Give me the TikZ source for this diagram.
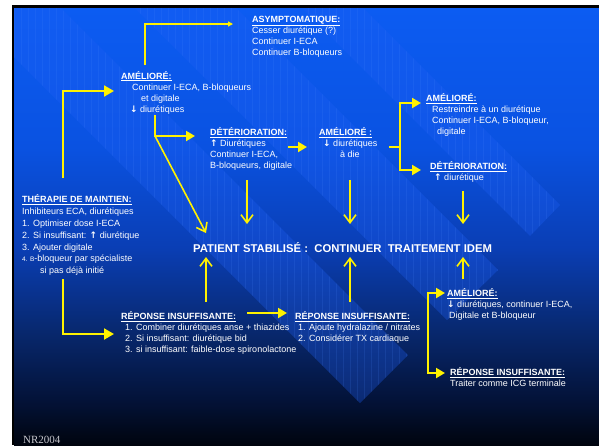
\documentclass[tikz,border=0pt]{standalone}
\usepackage{fontspec}
\setmainfont{Liberation Sans}
\newfontfamily\nrfont{Liberation Serif}
\newfontfamily\symfont{DejaVu Sans}
\usetikzlibrary{arrows.meta, calc}

\definecolor{bgtop}{RGB}{12,92,242}
\definecolor{bgup}{RGB}{10,82,225}
\definecolor{bgmid}{RGB}{10,62,180}
\definecolor{bgdark}{RGB}{8,40,110}
\definecolor{bglow}{RGB}{3,18,55}
\definecolor{bgbot}{RGB}{0,4,14}
\definecolor{bandcol}{RGB}{30,95,245}
\definecolor{gridcol}{RGB}{80,140,255}
\definecolor{nrgray}{RGB}{200,200,206}

\pgfdeclareverticalshading{slidebg}{100bp}{color(0bp)=(bgbot); color(25bp)=(bgbot);
  color(30bp)=(bglow); color(38bp)=(bgdark); color(47.5bp)=(bgmid);
  color(59bp)=(bgup); color(75bp)=(bgtop); color(100bp)=(bgtop)}

\newcommand{\hd}[1]{\underline{\textbf{#1}}}
\newcommand{\uarr}{{\symfont\bfseries ↑}}
\newcommand{\darr}{{\symfont\bfseries ↓}}

\begin{document}
\begin{tikzpicture}[x=1pt, y=-1pt,
    txt/.style={anchor=north west, inner sep=0pt, align=left, text=white,
      font=\fontsize{9}{11}\selectfont},
    yline/.style={draw=yellow, line width=2pt},
    fwd/.style={yline, -{Triangle[length=9pt,width=10pt]}},
    bigfwd/.style={yline, -{Triangle[length=10pt,width=11pt]}},
    thinfwd/.style={draw=yellow, line width=1.3pt, -{Triangle[length=5pt,width=5pt]}},
    vdown/.style={draw=yellow, line width=1.6pt, -{Straight Barb[length=8pt,width=12pt]}},
    gridline/.style={draw=gridcol, line width=0.3pt, opacity=0.14}
  ]
  \useasboundingbox (0,0) rectangle (599,445);
  % fond de la diapositive
  \fill[white] (0,0) rectangle (599,445);
  \fill[black] (12,5) rectangle (599,445);
  \shade[shading=slidebg] (14,8) rectangle (599,445);

  % bandes diagonales
  \begin{scope}
    \clip (14,8) rectangle (599,445);
    \foreach \lx/\ly/\rx/\ry in {360/403/408/355, 447/320/498/270, 530/236/560/205} {
      \fill[bandcol, fill opacity=0.32] (\lx,\ly) -- (\rx,\ry) -- (\rx-500,\ry-500) -- (\lx-500,\ly-500) -- cycle;
      \begin{scope}
        \clip (\lx,\ly) -- (\rx,\ry) -- (\rx-500,\ry-500) -- (\lx-500,\ly-500) -- cycle;
        \draw[gridline, step=7] (0,0) grid (599,445);
      \end{scope}
    }
  \end{scope}

  % blocs de texte
  \node[txt] (asym) at (252,14.5) {\strut\hd{ASYMPTOMATIQUE:}\\ Cesser diurétique (?)\\ Continuer I-ECA\\ Continuer B-bloqueurs};
  \node[txt] (amel1) at (121,71) {\strut\hd{AMÉLIORÉ:}\\ \hspace*{11pt}Continuer I-ECA, B-bloqueurs\\ \hspace*{20pt}et digitale\\ \hspace*{9pt}\darr\ diurétiques};
  \node[txt, font=\fontsize{9}{11.8}\selectfont] (maint) at (22,194.5) {\strut\hd{THÉRAPIE DE MAINTIEN:}\\ Inhibiteurs ECA, diurétiques\\ 1. Optimiser dose I-ECA\\ 2. Si insuffisant: \uarr\ diurétique\\ 3. Ajouter digitale\\ {\fontsize{6.5}{8}\selectfont 4. B}-bloqueur par spécialiste\\ \hspace*{18pt}si pas déjà initié};
  \node[txt] (det1) at (210,127.5) {\strut\hd{DÉTÉRIORATION:}\\ \uarr\ Diurétiques\\ Continuer I-ECA,\\ B-bloqueurs, digitale};
  \node[txt] (amel2) at (319,127.5) {\strut\hd{AMÉLIORÉ :}\\ \hspace*{4pt}\darr\ diurétiques\\ \hspace*{21pt}à die};
  \node[txt] (amel3) at (426,93.5) {\strut\hd{AMÉLIORÉ:}\\ \hspace*{6pt}Restreindre à un diurétique\\ \hspace*{6pt}Continuer I-ECA, B-bloqueur,\\ \hspace*{11pt}digitale};
  \node[txt] (det2) at (430,161.5) {\strut\hd{DÉTÉRIORATION:}\\ \hspace*{4pt}\uarr\ diurétique};
  \node[anchor=west, inner sep=0pt, text=white, font=\bfseries\fontsize{11.3}{13}\selectfont] (stable) at (193,248) {PATIENT STABILISÉ :\ \ CONTINUER\ \ TRAITEMENT IDEM};
  \node[txt] (ri1) at (121,311.5) {\strut\hd{RÉPONSE INSUFFISANTE:}\\ \hspace*{4pt}1. Combiner diurétiques anse + thiazides\\ \hspace*{4pt}2. Si insuffisant: diurétique bid\\ \hspace*{4pt}3. si insuffisant: faible-dose spironolactone};
  \node[txt] (ri2) at (295,311.5) {\strut\hd{RÉPONSE INSUFFISANTE:}\\ \hspace*{3pt}1. Ajoute hydralazine / nitrates\\ \hspace*{3pt}2. Considérer TX cardiaque};
  \node[txt] (amel4) at (447,288.5) {\strut\hd{AMÉLIORÉ:}\\ \darr\ diurétiques, continuer I-ECA,\\ \hspace*{2pt}Digitale et B-bloqueur};
  \node[txt] (ri3) at (450,367.5) {\strut\hd{RÉPONSE INSUFFISANTE:}\\ Traiter comme ICG terminale};
  \node[anchor=base west, inner sep=0pt, text=nrgray, font=\nrfont\fontsize{11}{12}\selectfont] (nr) at (23,443) {NR2004};

  % liaisons
  \draw[thinfwd] ($(amel1.north west)+(24,-6)$) |- ($(asym.north west)+(-19,9.5)$);
  \draw[bigfwd] ($(maint.north west)+(41,-16.5)$) |- ($(amel1.north west)+(-7,20)$);
  \coordinate (split) at ($(amel1.north west)+(34,65)$);
  \draw[fwd] ($(amel1.north west)+(34,44)$) |- ($(det1.north west)+(-15,8.5)$);
  \draw[vdown] (split) -- ($(stable.west)+(13,-15)$);
  \draw[fwd] ($(det1.north west)+(78,19.5)$) -- ($(amel2.north west)+(-12,19.5)$);
  \coordinate (fork) at ($(amel2.north west)+(81,19.5)$);
  \draw[yline] ($(amel2.north west)+(70,19.5)$) -- (fork);
  \draw[fwd] (fork) |- ($(amel3.north west)+(-5,9.5)$);
  \draw[fwd] (fork) |- ($(det2.north west)+(-9,8.5)$);

  \draw[vdown] ($(det1.north west)+(37,52.5)$) -- ($(stable.west)+(54,-24)$);
  \draw[vdown] ($(amel2.north west)+(31,52.5)$) -- ($(stable.west)+(157,-24)$);
  \draw[vdown] ($(det2.north west)+(33,29.5)$) -- ($(stable.west)+(270,-24)$);
  \draw[vdown] ($(ri1.north west)+(85,-9.5)$) -- ($(stable.west)+(13,9)$);
  \draw[vdown] ($(ri2.north west)+(55,-9.5)$) -- ($(stable.west)+(157,9)$);
  \draw[vdown] ($(amel4.north west)+(16,-9.5)$) -- ($(stable.west)+(270,9)$);

  \draw[fwd] ($(ri1.north west)+(126,1.5)$) -- ($(ri2.north west)+(-8,1.5)$);
  \draw[bigfwd] ($(maint.north west)+(41,84.5)$) |- ($(ri1.north west)+(-7,22.5)$);
  \draw[yline, {Triangle[length=9pt,width=10pt]}-{Triangle[length=9pt,width=10pt]}] ($(amel4.north west)+(-2,4.5)$) -| ($(ri3.north west)+(-22,5.5)$) -- ($(ri3.north west)+(-5,5.5)$);
\end{tikzpicture}
\end{document}
